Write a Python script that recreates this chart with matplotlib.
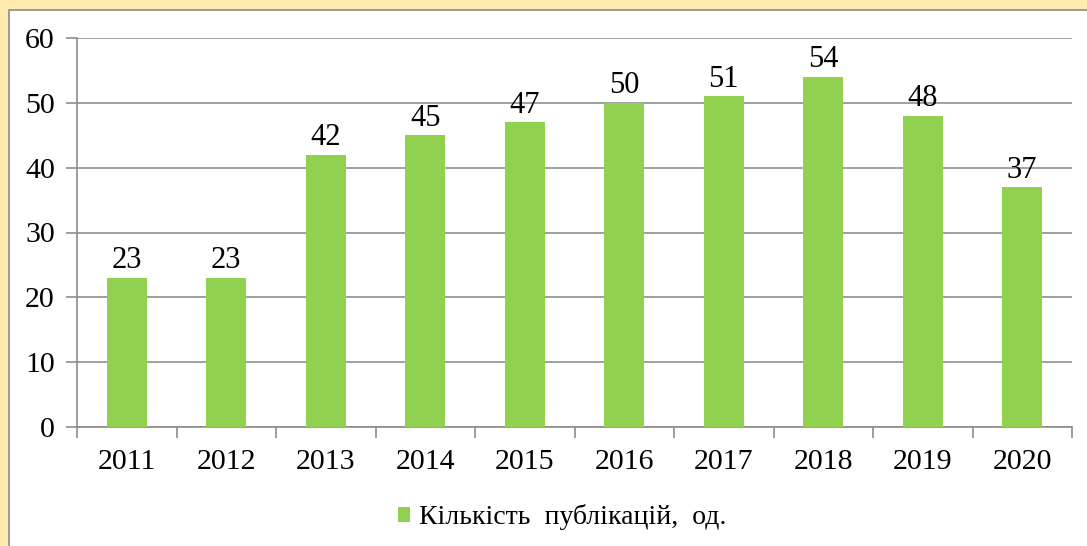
import numpy as np
import matplotlib.pyplot as plt
from matplotlib.patches import Rectangle

# дані
years = ['2011', '2012', '2013', '2014', '2015', '2016', '2017', '2018', '2019', '2020']
counts = [23, 23, 42, 45, 47, 50, 51, 54, 48, 37]
legend_label = 'Кількість  публікацій,  од.'

plt.rcParams['font.family'] = ['Liberation Serif', 'DejaVu Serif']

fig = plt.figure(figsize=(10.87, 5.46), dpi=100, facecolor='#FFEBAF')
# біла панель з сірою рамкою
fig.patches.append(Rectangle((9 / 1087, -0.01), 1.02, 1 - 10 / 546 + 0.01,
                             transform=fig.transFigure, facecolor='white',
                             edgecolor='#8C8C8C', linewidth=1.2, zorder=-1))

ax = fig.add_axes([77 / 1087, 1 - 427 / 546, (1072 - 77) / 1087, (427 - 38) / 546])
ax.set_facecolor('none')

x = np.arange(len(years))
bars = ax.bar(x, counts, width=0.4, color='#92D050', zorder=3, label=legend_label)

for xi, v in zip(x, counts):
    ax.text(xi, v + 0.4, str(v), ha='center', va='bottom', fontsize=22, zorder=4)

ax.set_xlim(-0.5, len(years) - 0.5)
ax.set_ylim(0, 60)
ax.set_yticks(range(0, 61, 10))
ax.yaxis.grid(True, color='#A0A0A0', linewidth=1.4, zorder=0)
ax.set_axisbelow(True)

ax.set_xticks(x)
ax.set_xticklabels(years)
ax.set_xticks(np.arange(-0.5, len(years)), minor=True)
ax.tick_params(axis='x', which='major', length=0, pad=16, labelsize=21.5)
ax.tick_params(axis='x', which='minor', length=8, color='#8C8C8C', width=1.2)
ax.tick_params(axis='y', length=8, color='#8C8C8C', width=1.2, pad=8, labelsize=21.5)

for s in ['top', 'right']:
    ax.spines[s].set_visible(False)
for s in ['left', 'bottom']:
    ax.spines[s].set_color('#8C8C8C')
    ax.spines[s].set_linewidth(1.2)

fig.legend(loc='center', bbox_to_anchor=(562 / 1087, 1 - 517 / 546), frameon=False,
           fontsize=20, handlelength=0.45, handleheight=0.45, handletextpad=0.3)

fig.savefig('out.png', dpi=100, facecolor=fig.get_facecolor())
